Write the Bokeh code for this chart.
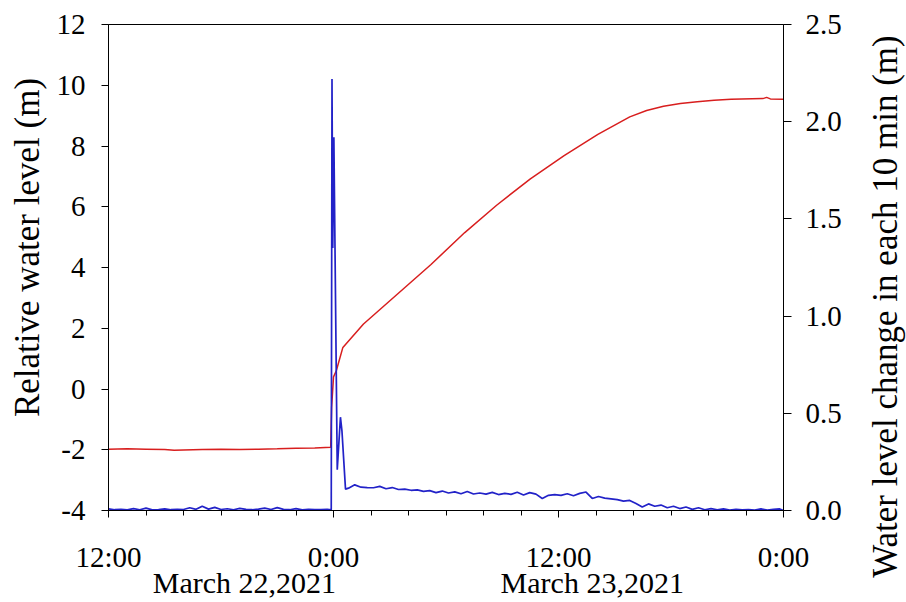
import math
from bokeh.plotting import figure
from bokeh.models import Range1d, LinearAxis, FixedTicker, PrintfTickFormatter, Label
from bokeh.layouts import row, column
from bokeh.embed import file_html
from bokeh.resources import INLINE

# ---------------- data ----------------
# hours since 12:00, March 22, 2021
red_t = [0, 1, 2, 3, 3.5, 4, 5, 6, 7, 8, 9, 10, 11, 11.85, 11.9, 12.0, 12.15,
         12.5, 13.6, 15.4, 17.2, 19.0, 20.7, 22.5, 24.3, 26.1, 27.8, 28.7,
         29.6, 30.5, 31.4, 32.3, 33.2, 34.9, 35.1, 35.3, 36.0]
red_v = [-1.98, -1.97, -1.98, -1.99, -2.02, -2.01, -1.99, -1.98, -1.99, -1.98,
         -1.97, -1.95, -1.94, -1.92, -0.6, 0.4, 0.6, 1.37, 2.14, 3.12, 4.10,
         5.15, 6.05, 6.92, 7.68, 8.38, 8.96, 9.17, 9.31, 9.40, 9.46, 9.51,
         9.54, 9.56, 9.60, 9.55, 9.54]

blue_pre_t = [k / 3 for k in range(36)]
blue_pre_v = [0.008, 0.004, 0.006, 0.003, 0.010, 0.004, 0.012, 0.003, 0.005,
              0.008, 0.004, 0.006, 0.005, 0.014, 0.006, 0.022, 0.007, 0.016,
              0.005, 0.009, 0.004, 0.011, 0.006, 0.004, 0.007, 0.012, 0.005,
              0.015, 0.006, 0.004, 0.010, 0.003, 0.006, 0.004, 0.005, 0.006]

blue_evt_t = [11.88, 11.92, 11.96, 12.02, 12.20, 12.37, 12.45, 12.64]
blue_evt_v = [0.004, 2.22, 1.35, 1.92, 0.21, 0.48, 0.41, 0.11]

blue_post_t = [12.8 + k / 3 for k in range(70)] + [36.0]
blue_post_v = [0.115, 0.132, 0.120, 0.118, 0.117, 0.124, 0.112, 0.118, 0.108,
               0.110, 0.104, 0.106, 0.098, 0.102, 0.092, 0.100, 0.090, 0.096,
               0.086, 0.098, 0.085, 0.090, 0.084, 0.093, 0.082, 0.088, 0.083,
               0.094, 0.080, 0.092, 0.084, 0.062, 0.078, 0.082, 0.078, 0.086,
               0.076, 0.088, 0.095, 0.062, 0.072, 0.064, 0.060, 0.056, 0.048,
               0.052, 0.036, 0.018, 0.034, 0.022, 0.028, 0.014, 0.022, 0.010,
               0.018, 0.006, 0.014, 0.004, 0.010, 0.004, 0.008, 0.002, 0.006,
               0.003, 0.004, 0.002, 0.008, 0.002, 0.006, 0.008, 0.0]

blue_t = blue_pre_t + blue_evt_t + blue_post_t
blue_v = blue_pre_v + blue_evt_v + blue_post_v

x_ticks = [0, 12, 24, 36]
x_tick_labels = ["12:00", "0:00", "12:00", "0:00"]
x_minor = list(range(0, 37, 2))
date_pos = [7.25, 25.8]
date_labels = ["March 22,2021", "March 23,2021"]
left_ticks = [-4, -2, 0, 2, 4, 6, 8, 10, 12]
left_tick_labels = ["-4", "-2", "0", "2", "4", "6", "8", "10", "12"]
right_ticks = [0.0, 0.5, 1.0, 1.5, 2.0, 2.5]

left_title = "Relative water level (m)"
right_title = "Water level change in each 10 min (m)"

FONT = "Liberation Serif"
TICK_SIZE = "29px"
DATE_SIZE = "30px"
TITLE_SIZE = "35px"
H = 600


def side_panel(width, text, xc, yc):
    f = figure(width=width, height=H, x_range=Range1d(0, width), y_range=Range1d(0, H),
               x_axis_type=None, y_axis_type=None, toolbar_location=None,
               output_backend="svg", min_border=0)
    f.outline_line_color = None
    f.background_fill_color = "white"
    f.border_fill_color = "white"
    f.add_layout(Label(x=xc, y=H - yc, text=text, angle=math.pi / 2,
                       text_font=FONT, text_font_size=TITLE_SIZE, text_color="black",
                       text_align="center", text_baseline="middle"))
    return f


# ---------------- main figure ----------------
p = figure(frame_width=675, frame_height=486,
           x_range=Range1d(0, 36), y_range=Range1d(-4, 12),
           output_backend="svg", toolbar_location=None,
           min_border_left=58, min_border_right=75,
           min_border_top=24, min_border_bottom=H - 24 - 486)
p.extra_y_ranges = {"right": Range1d(0, 2.5)}
p.xgrid.visible = False
p.ygrid.visible = False
p.outline_line_color = "black"
p.outline_line_width = 1
p.background_fill_color = "white"
p.border_fill_color = "white"

# bottom axis
xa = p.xaxis[0]
xa.ticker = FixedTicker(ticks=x_ticks, minor_ticks=x_minor)
xa.major_label_overrides = dict(zip(x_ticks, x_tick_labels))
xa.major_tick_out = 7
xa.major_tick_in = 0
xa.minor_tick_out = 5
xa.minor_tick_in = 0
xa.axis_line_color = "black"
xa.major_tick_line_color = "black"
xa.minor_tick_line_color = "black"
xa.major_label_text_font = FONT
xa.major_label_text_font_size = TICK_SIZE
xa.major_label_text_color = "black"
xa.major_label_standoff = 23

# date axis
da = LinearAxis(ticker=FixedTicker(ticks=date_pos, minor_ticks=[]))
da.major_label_overrides = dict(zip(date_pos, date_labels))
da.axis_line_color = None
da.major_tick_line_color = None
da.minor_tick_line_color = None
da.major_tick_out = 0
da.major_tick_in = 0
da.major_label_text_font = FONT
da.major_label_text_font_size = DATE_SIZE
da.major_label_text_color = "black"
da.major_label_standoff = -10
p.add_layout(da, "below")

# left axis
ya = p.yaxis[0]
ya.ticker = FixedTicker(ticks=left_ticks, minor_ticks=[])
ya.major_label_overrides = dict(zip(left_ticks, left_tick_labels))
ya.major_tick_out = 7
ya.major_tick_in = 0
ya.axis_line_color = "black"
ya.major_tick_line_color = "black"
ya.major_label_text_font = FONT
ya.major_label_text_font_size = TICK_SIZE
ya.major_label_text_color = "black"
ya.major_label_standoff = 16

# right axis
ra = LinearAxis(y_range_name="right",
                ticker=FixedTicker(ticks=right_ticks, minor_ticks=[]),
                formatter=PrintfTickFormatter(format="%.1f"))
ra.major_tick_out = 8
ra.major_tick_in = 0
ra.axis_line_color = "black"
ra.major_tick_line_color = "black"
ra.major_label_text_font = FONT
ra.major_label_text_font_size = TICK_SIZE
ra.major_label_text_color = "black"
ra.major_label_standoff = 14
p.add_layout(ra, "right")

# series
p.line(red_t, red_v, line_color="#d81e1e", line_width=1.5)
p.line(blue_t, blue_v, line_color="#2222c8", line_width=1.7, y_range_name="right")

left_fig = side_panel(50, left_title, 27, 247)
right_fig = side_panel(48, right_title, 27, 306)

layout = row(column(left_fig), column(p), column(right_fig))

open("out.html", "w").write(file_html(layout, INLINE))
